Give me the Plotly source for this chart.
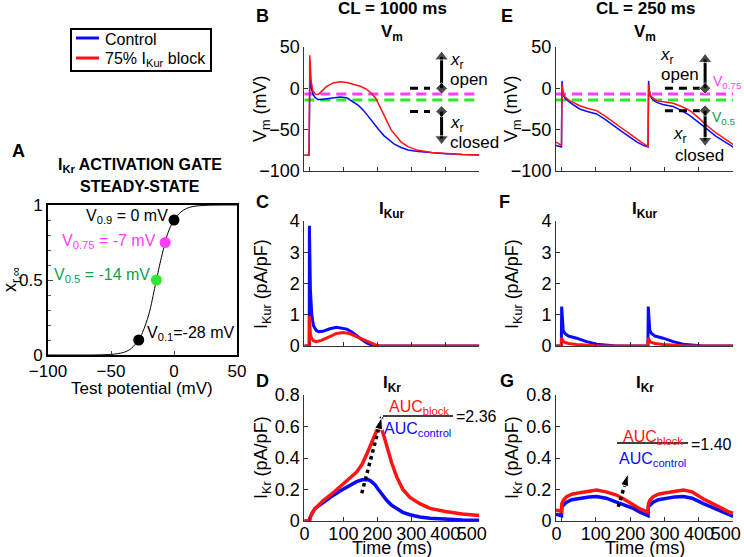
import plotly.graph_objects as go

W, H = 744, 557
BLUE = 'rgb(10,10,255)'
RED = 'rgb(255,20,20)'
MAG = 'rgb(255,60,255)'
GRN_LINE = 'rgb(40,235,40)'
GRN_TXT = 'rgb(15,160,75)'
FONT = 'Arial, Liberation Sans, sans-serif'
NB = '\u00a0'

# ---------------- Panel A: I_Kr activation gate steady state ----------------
ss_v = [-100, -70, -60, -50, -45, -40, -35, -30, -28, -25, -20, -15, -14, -10, -7, -5, 0, 5, 10, 15, 20, 30, 50]
ss_x = [0.0, 0.0, 0.001, 0.004, 0.009, 0.017, 0.037, 0.078, 0.10, 0.15, 0.27, 0.46, 0.50, 0.65, 0.75, 0.81, 0.90, 0.95, 0.977, 0.99, 0.995, 0.999, 1.0]
pt_v = [0, -7, -14, -28]
pt_x = [0.9, 0.75, 0.5, 0.1]
pt_colors = ['black', MAG, 'rgb(50,230,50)', 'black']

# ---------------- Panel B: Vm, CL = 1000 ms ----------------
b_ctl_t = [-15, -1, 0, 1.5, 3, 6, 10, 17, 25, 35, 50, 70, 90, 110, 130, 145, 160, 175, 190, 205, 220, 235, 250, 270, 290, 320, 360, 400, 450, 500]
b_ctl_v = [-81, -81, -40, 18, 12, 0, -7, -11, -13.5, -13.5, -12.5, -11, -10.5, -11.5, -16.5, -21, -27, -35, -43, -50.5, -57.5, -63, -67.5, -71.5, -74.5, -76.5, -78, -79, -80, -80.5]
b_blk_t = [-15, -1, 0, 1, 2.5, 5, 10, 18, 26, 35, 50, 70, 90, 110, 130, 150, 165, 180, 195, 210, 225, 240, 255, 270, 290, 320, 360, 400, 450, 500]
b_blk_v = [-81, -81, -30, 40, 30, 10, -3, -7, -7.5, -4, 2, 6.5, 8, 7, 5, 2.5, -0.5, -5, -12, -24, -37, -50, -58, -65, -70.5, -75, -77.5, -79, -80, -80.5]

# ---------------- Panel E: Vm, CL = 250 ms ----------------
e_t = [-16, 0, 0.5, 1.5, 3, 6, 12, 24, 40, 53, 75, 102, 125, 150, 175, 199, 220, 238, 251.5,
       252, 252.5, 253.5, 255, 258, 264, 277, 295, 325, 350, 374, 400, 423, 450, 475, 491, 500]
e_ctl_v = [-69, -71, -40, 9, 0, -9, -13, -17, -22, -25, -28, -31, -37, -45, -52, -59, -65, -69, -71,
           -71, -40, 9, 0, -9, -13, -17, -19.5, -22, -27, -33, -41, -49, -58, -65, -69, -71]
e_blk_v = [-65, -69, -40, 5, -2, -8, -11, -15, -18.5, -21, -24, -27, -33, -41, -48, -55, -62, -67, -70,
           -70, -40, 5, -2, -8, -11, -15, -16, -18, -22, -27, -36, -45, -54, -61, -65, -68]

# ---------------- Panel C: I_Kur, CL = 1000 ms ----------------
c_ctl_t = [-15, -0.5, 0, 1, 3, 7, 12, 20, 27, 40, 60, 80, 95, 110, 125, 139, 155, 169, 180, 188, 200, 500]
c_ctl_i = [0, 0, 3.85, 3.0, 1.8, 1.0, 0.65, 0.5, 0.46, 0.47, 0.55, 0.6, 0.58, 0.54, 0.45, 0.32, 0.2, 0.1, 0.04, 0.01, 0, 0]
c_blk_t = [-15, -0.5, 0, 1, 3, 6, 12, 20, 35, 60, 80, 100, 120, 139, 155, 169, 185, 198, 210, 500]
c_blk_i = [0, 0, 0.96, 0.7, 0.4, 0.25, 0.17, 0.14, 0.18, 0.3, 0.4, 0.43, 0.39, 0.3, 0.22, 0.14, 0.07, 0.02, 0, 0]

# ---------------- Panel F: I_Kur, CL = 250 ms ----------------
f_ctl_t = [-16, -0.5, 0.5, 2, 5, 10, 20, 44, 73, 102, 130, 160, 200, 251.5, 252.5, 254, 257, 262, 272, 296, 325, 354, 382, 412, 450, 500]
f_ctl_i = [0, 0, 1.26, 0.8, 0.5, 0.4, 0.32, 0.25, 0.14, 0.06, 0.02, 0, 0, 0, 1.26, 0.8, 0.5, 0.4, 0.32, 0.25, 0.14, 0.06, 0.02, 0, 0, 0]
f_blk_t = [-16, -0.5, 0.5, 3, 8, 20, 44, 73, 102, 140, 251.5, 252.5, 255, 260, 272, 296, 325, 354, 392, 500]
f_blk_i = [0, 0, 0.27, 0.18, 0.12, 0.08, 0.05, 0.02, 0.005, 0, 0, 0.27, 0.18, 0.12, 0.08, 0.05, 0.02, 0.005, 0, 0]

# ---------------- Panel D: I_Kr, CL = 1000 ms ----------------
d_ctl_t = [-15, 0, 2, 8, 17, 41, 65, 90, 115, 139, 155, 164, 172, 180, 193, 203, 215, 228, 242, 257, 275, 296, 325, 355, 400, 450, 500]
d_ctl_i = [0, 0, 0.02, 0.05, 0.08, 0.12, 0.155, 0.19, 0.22, 0.25, 0.262, 0.265, 0.263, 0.255, 0.23, 0.2, 0.165, 0.13, 0.1, 0.08, 0.055, 0.04, 0.025, 0.017, 0.01, 0.007, 0.005]
d_blk_t = [-15, 0, 2, 8, 17, 41, 65, 90, 115, 139, 155, 170, 185, 195, 202, 208, 214, 220, 228, 242, 257, 275, 296, 325, 355, 400, 450, 500]
d_blk_i = [0, 0, 0.02, 0.05, 0.08, 0.13, 0.17, 0.22, 0.265, 0.31, 0.36, 0.43, 0.51, 0.565, 0.595, 0.598, 0.575, 0.535, 0.47, 0.37, 0.28, 0.2, 0.15, 0.11, 0.08, 0.06, 0.045, 0.035]

# ---------------- Panel G: I_Kr, CL = 250 ms ----------------
g_t = [-16, 0, 1, 5, 15, 30, 53, 80, 102, 130, 160, 185, 209, 230, 248, 252, 253, 257, 267, 282, 305, 330, 355, 380, 413, 440, 465, 485, 500]
g_ctl_i = [0.044, 0.034, 0.09, 0.1, 0.12, 0.135, 0.145, 0.153, 0.155, 0.145, 0.12, 0.1, 0.08, 0.055, 0.036, 0.034, 0.09, 0.1, 0.12, 0.135, 0.145, 0.153, 0.155, 0.145, 0.11, 0.085, 0.06, 0.04, 0.03]
g_blk_i = [0.07, 0.06, 0.11, 0.13, 0.155, 0.17, 0.18, 0.19, 0.197, 0.185, 0.165, 0.135, 0.1, 0.075, 0.06, 0.055, 0.11, 0.13, 0.155, 0.17, 0.18, 0.19, 0.197, 0.185, 0.14, 0.11, 0.08, 0.06, 0.05]

# tick labels
time_ticks = [0, 100, 200, 300, 400, 500]
time_labels = ['0' + NB + NB, '100', '200', '300', '400', '500' + NB + NB + NB]

# reference levels / annotations data
v_075, v_05, v_09, v_01 = -7, -14, 0, -28
b_dash_t = [296, 355]
e_dash_t = [301, 403]
b_arrow_t, e_arrow_t = 389, 418
up_tip_b, dn_tip_b = 38, -61
up_tip_e, dn_tip_e = 35, -63
d_arrow = ([154, 213], [0.176, 0.66])
g_arrow = ([165, 194], [0.09, 0.30])
ratio_d, ratio_g = '2.36', '1.40'


def px(x):
    return x / W


def py(y):
    return 1 - y / H


fig = go.Figure()

# Panel A traces
fig.add_trace(go.Scatter(x=ss_v, y=ss_x, mode='lines', line=dict(color='black', width=1, shape='spline'),
                         xaxis='x', yaxis='y', showlegend=False))
fig.add_trace(go.Scatter(x=pt_v, y=pt_x, mode='markers', marker=dict(color=pt_colors, size=11),
                         xaxis='x', yaxis='y', showlegend=False))


def pair(t1, y1, t2, y2, ax, w):
    fig.add_trace(go.Scatter(x=t1, y=y1, mode='lines', line=dict(color=BLUE, width=w),
                             xaxis='x' + ax, yaxis='y' + ax, showlegend=False))
    fig.add_trace(go.Scatter(x=t2, y=y2, mode='lines', line=dict(color=RED, width=w),
                             xaxis='x' + ax, yaxis='y' + ax, showlegend=False))


def hline(ax, t0, t1, v, color, dash, w=3):
    fig.add_trace(go.Scatter(x=[t0, t1], y=[v, v], mode='lines', line=dict(color=color, width=w, dash=dash),
                             xaxis='x' + ax, yaxis='y' + ax, showlegend=False, cliponaxis=False))


def varrow(ax, t, v_base, v_tip):
    sym_tip = 'triangle-up' if v_tip > v_base else 'triangle-down'
    fig.add_trace(go.Scatter(x=[t, t], y=[v_base, v_tip], mode='lines+markers',
                             line=dict(color='black', width=3),
                             marker=dict(symbol=['diamond', sym_tip], size=[9, 12], color='black'),
                             xaxis='x' + ax, yaxis='y' + ax, showlegend=False, cliponaxis=False))


# B
hline('2', -15, 500, v_075, MAG, '10px,6px')
hline('2', -15, 500, v_05, GRN_LINE, '10px,6px')
pair(b_ctl_t, b_ctl_v, b_blk_t, b_blk_v, '2', 1.5)
hline('2', b_dash_t[0], b_dash_t[1], v_09, 'black', '8px,6px')
hline('2', b_dash_t[0], b_dash_t[1], v_01, 'black', '8px,6px')
varrow('2', b_arrow_t, v_09, up_tip_b)
varrow('2', b_arrow_t, v_01, dn_tip_b)

# E
hline('5', -16, 500, v_075, MAG, '10px,6px')
hline('5', -16, 500, v_05, GRN_LINE, '10px,6px')
pair(e_t, e_ctl_v, e_t, e_blk_v, '5', 1.5)
hline('5', e_dash_t[0], e_dash_t[1], v_09, 'black', '8px,6px')
hline('5', e_dash_t[0], e_dash_t[1], v_01 + 1, 'black', '8px,6px')
varrow('5', e_arrow_t, v_09, up_tip_e)
varrow('5', e_arrow_t, v_01 + 1, dn_tip_e)

# C, F, D, G
pair(c_ctl_t, c_ctl_i, c_blk_t, c_blk_i, '3', 3)
pair(f_ctl_t, f_ctl_i, f_blk_t, f_blk_i, '6', 3)
pair(d_ctl_t, d_ctl_i, d_blk_t, d_blk_i, '4', 3.5)
pair(g_t, g_ctl_i, g_t, g_blk_i, '7', 3.5)

for ax, (ta, ia) in (('4', d_arrow), ('7', g_arrow)):
    fig.add_trace(go.Scatter(x=ta, y=ia, mode='lines', line=dict(color='black', width=3.5, dash='dot'),
                             xaxis='x' + ax, yaxis='y' + ax, showlegend=False))
    fig.add_trace(go.Scatter(x=ta, y=ia, mode='markers',
                             marker=dict(symbol='arrow', size=[0, 13], color='black', angleref='previous',
                                         opacity=[0, 1]),
                             xaxis='x' + ax, yaxis='y' + ax, showlegend=False, cliponaxis=False))

# ---------------- layout / axes ----------------
ax_common = dict(showline=True, linecolor='#333', linewidth=1, ticks='inside', ticklen=4, tickcolor='#333',
                 showgrid=False, zeroline=False, automargin=False,
                 tickfont=dict(family=FONT, size=18, color='black'))

layout = dict(template='none', width=W, height=H, margin=dict(l=0, r=0, t=0, b=0, pad=0),
              plot_bgcolor='white', paper_bgcolor='white', showlegend=False,
              font=dict(family=FONT, color='black'))

layout['xaxis'] = dict(domain=[px(48), px(237)], range=[-100, 50], tickvals=[-100, -50, 0, 50],
                       showline=True, mirror=True, linecolor='black', linewidth=2, ticks='inside', ticklen=4,
                       showgrid=False, zeroline=False, automargin=False, tickangle=0,
                       tickfont=dict(family=FONT, size=17, color='black'), anchor='y')
layout['yaxis'] = dict(domain=[py(355), py(205)], range=[0, 1], tickvals=[0, 0.5, 1],
                       showline=True, mirror=True, linecolor='black', linewidth=2, ticks='inside', ticklen=5,
                       minor=dict(dtick=0.1, ticks='inside', ticklen=3, tickcolor='#555'),
                       showgrid=False, zeroline=False, automargin=False,
                       tickfont=dict(family=FONT, size=17, color='black'), anchor='x')

cols = {'2': (304.3, 479.3), '3': (304.3, 479.3), '4': (304.3, 479.3),
        '5': (556, 733.3), '6': (556, 733.3), '7': (556, 733.3)}
rows = {'2': (47, 171), '5': (47, 171), '3': (221, 346), '6': (221, 346), '4': (395, 521), '7': (395, 521)}
yr = {'2': ([-100, 50], [-100, -50, 0, 50]), '5': ([-100, 50], [-100, -50, 0, 50]),
      '3': ([0, 4], [0, 1, 2, 3, 4]), '6': ([0, 4], [0, 1, 2, 3, 4]),
      '4': ([0, 0.8], [0, 0.2, 0.4, 0.6, 0.8]), '7': ([0, 0.8], [0, 0.2, 0.4, 0.6, 0.8])}
for k in cols:
    x0, x1 = cols[k]
    y0, y1 = rows[k]
    xlo = -15 if k in '234' else -16
    layout['xaxis' + k] = dict(ax_common, domain=[px(x0), px(x1)], range=[xlo, 500],
                               tickvals=time_ticks, ticktext=time_labels, showticklabels=(k in '47'),
                               tickfont=dict(family=FONT, size=18, color='black'), tickangle=0,
                               ticklabeloverflow='allow', ticklabelstandoff=-4,
                               anchor='y' + k)
    layout['yaxis' + k] = dict(ax_common, domain=[py(y1), py(y0)], range=yr[k][0], tickvals=yr[k][1],
                               anchor='x' + k)

anns = []


def ann(text, x, y, size=17, color='black', bold=False, xanchor='center', yanchor='middle', angle=0):
    if bold:
        text = '<b>' + text + '</b>'
    anns.append(dict(text=text, x=px(x), y=py(y), xref='paper', yref='paper', showarrow=False,
                     xanchor=xanchor, yanchor=yanchor, textangle=angle,
                     font=dict(family=FONT, size=size, color=color)))


# legend
ann('Control', 103, 39, 16, xanchor='left')
ann('75% I<sub>Kur</sub> block', 103, 60, 16, xanchor='left')

# panel A
ann('A', 18, 151, 18, bold=True)
ann('I<sub>Kr</sub> ACTIVATION GATE', 140, 166, 16, bold=True)
ann('STEADY-STATE', 140, 186, 16, bold=True)
ann('x<sub>r,∞</sub>', 11, 280, 18, angle=-90)
ann('Test potential (mV)', 142, 389, 17)
ann('V<sub>0.9</sub> = 0 mV', 170, 217, 16, xanchor='right')
ann('V<sub>0.75</sub> = -7 mV', 158, 241, 16, color=MAG, xanchor='right')
ann('V<sub>0.5</sub> = -14 mV', 152, 276, 16, color=GRN_TXT, xanchor='right')
ann('V<sub>0.1</sub>=-28 mV', 145, 333, 16, xanchor='left')

# column titles
ann('CL = 1000 ms', 392, 9, 17, bold=True)
ann('CL = 250 ms', 645, 9, 17, bold=True)
for xc in (392, 645):
    ann('V<sub>m</sub>', xc, 33, 17, bold=True)
    ann('I<sub>Kur</sub>', xc, 210, 17, bold=True)
    ann('I<sub>Kr</sub>', xc, 384, 17, bold=True)
    ann('Time (ms)', xc, 548, 18)
for lab, xl, yl in (('B', 262, 16), ('C', 262, 202), ('D', 262, 381),
                    ('E', 507, 16), ('F', 505, 202), ('G', 507, 381)):
    ann(lab, xl, yl, 18, bold=True)
for xc in (262, 513):
    ann('V<sub>m</sub> (mV)', xc, 109, 18, angle=-90)
    ann('I<sub>Kur</sub> (pA/pF)', xc, 284, 18, angle=-90)
    ann('I<sub>Kr</sub> (pA/pF)', xc, 458, 18, angle=-90)

# B texts
ann('<i>x</i><sub>r</sub>', 448, 61, 17, xanchor='left')
ann('open', 448, 79, 17, xanchor='left')
ann('<i>x</i><sub>r</sub>', 448, 124, 17, xanchor='left')
ann('closed', 448, 142, 17, xanchor='left')
# E texts
ann('<i>x</i><sub>r</sub>', 667, 56, 17)
ann('open', 680, 75, 17)
ann('<i>x</i><sub>r</sub>', 680, 135, 17)
ann('closed', 699, 155, 17)
ann('V<sub>0.75</sub>', 711, 82, 14, color=MAG, xanchor='left')
ann('V<sub>0.5</sub>', 710, 118, 14, color=GRN_TXT, xanchor='left')

# AUC ratios
ann('AUC<sub>block</sub>', 419, 407, 16, color=RED)
ann('AUC<sub>control</sub>', 418, 429, 16, color=BLUE)
ann('=' + ratio_d, 454, 416, 16, xanchor='left')
ann('AUC<sub>block</sub>', 653, 437, 16, color=RED)
ann('AUC<sub>control</sub>', 652, 459, 16, color=BLUE)
ann('=' + ratio_g, 689, 444, 16, xanchor='left')
layout['annotations'] = anns

shapes = [
    dict(type='rect', xref='paper', yref='paper', x0=px(71), x1=px(211), y0=py(71), y1=py(29),
         line=dict(color='black', width=2)),
    dict(type='line', xref='paper', yref='paper', x0=px(76), x1=px(99), y0=py(38), y1=py(38),
         line=dict(color=BLUE, width=3)),
    dict(type='line', xref='paper', yref='paper', x0=px(76), x1=px(99), y0=py(58), y1=py(58),
         line=dict(color=RED, width=3)),
    dict(type='line', xref='paper', yref='paper', x0=px(383), x1=px(453), y0=py(416), y1=py(416),
         line=dict(color='black', width=1.5)),
    dict(type='line', xref='paper', yref='paper', x0=px(617), x1=px(688), y0=py(443), y1=py(443),
         line=dict(color='black', width=1.5)),
]
layout['shapes'] = shapes

fig.update_layout(**layout)
fig.write_html('out.html', config={'displayModeBar': False},
               post_script="document.body.style.margin='0px';document.body.style.padding='0px';")
